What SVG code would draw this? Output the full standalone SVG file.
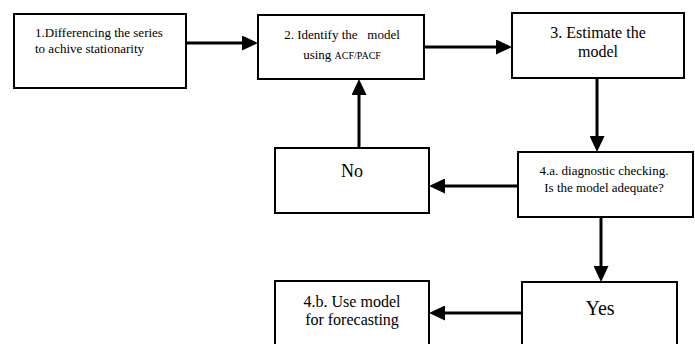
<svg xmlns="http://www.w3.org/2000/svg" width="695" height="344" viewBox="0 0 695 344">
<style>
.box{fill:#fff;stroke:#000;stroke-width:2}
.t{font-family:"Liberation Serif","Times New Roman",serif;fill:#000}
.c{text-anchor:middle}
.ln{stroke:#000;stroke-width:3;fill:none;marker-end:url(#ah)}
</style>
<defs>
<marker id="ah" markerUnits="userSpaceOnUse" markerWidth="16" markerHeight="15" refX="8" refY="7.5" orient="auto" viewBox="0 0 16 15">
<path d="M0,0 L16,7.5 L0,15 z" fill="#000"/>
</marker>
</defs>
<rect width="695" height="344" fill="#fff"/>
<g id="connectors">
<line class="ln" x1="186" y1="43" x2="250" y2="43"/>
<line class="ln" x1="424" y1="47" x2="504" y2="47"/>
<line class="ln" x1="597" y1="78" x2="597" y2="144"/>
<line class="ln" x1="518" y1="186" x2="437" y2="186"/>
<line class="ln" x1="359" y1="148" x2="359" y2="87"/>
<line class="ln" x1="601" y1="217" x2="601" y2="274"/>
<line class="ln" x1="522" y1="313" x2="437" y2="313"/>
</g>
<g id="n1">
<rect class="box" x="14" y="14" width="172" height="74"/>
<text class="t" font-size="13" x="35" y="37">1.Differencing the series</text>
<text class="t" font-size="13" x="35" y="53">to achive stationarity</text>
</g>
<g id="n2">
<rect class="box" x="258" y="15" width="166" height="64"/>
<text class="t c" font-size="13" x="342" y="39" xml:space="preserve">2. Identify the   model</text>
<text class="t c" font-size="13" x="342" y="59">using <tspan font-size="10">ACF/PACF</tspan></text>
</g>
<g id="n3">
<rect class="box" x="512" y="13" width="172" height="65"/>
<text class="t c" font-size="16" x="598" y="38">3. Estimate the</text>
<text class="t c" font-size="16" x="598" y="57">model</text>
</g>
<g id="n4a">
<rect class="box" x="518" y="152" width="175" height="65"/>
<text class="t c" font-size="13" x="604" y="175">4.a. diagnostic checking.</text>
<text class="t c" font-size="13" x="604" y="192">Is the model adequate?</text>
</g>
<g id="nNo">
<rect class="box" x="275" y="148" width="154" height="65"/>
<text class="t c" font-size="18" x="352" y="177">No</text>
</g>
<g id="nYes">
<rect class="box" x="522" y="282" width="155" height="70"/>
<text class="t c" font-size="20" x="600" y="315">Yes</text>
</g>
<g id="n4b">
<rect class="box" x="275" y="281" width="154" height="70"/>
<text class="t c" font-size="16" x="352" y="307">4.b. Use model</text>
<text class="t c" font-size="16" x="352" y="325">for forecasting</text>
</g>
</svg>
